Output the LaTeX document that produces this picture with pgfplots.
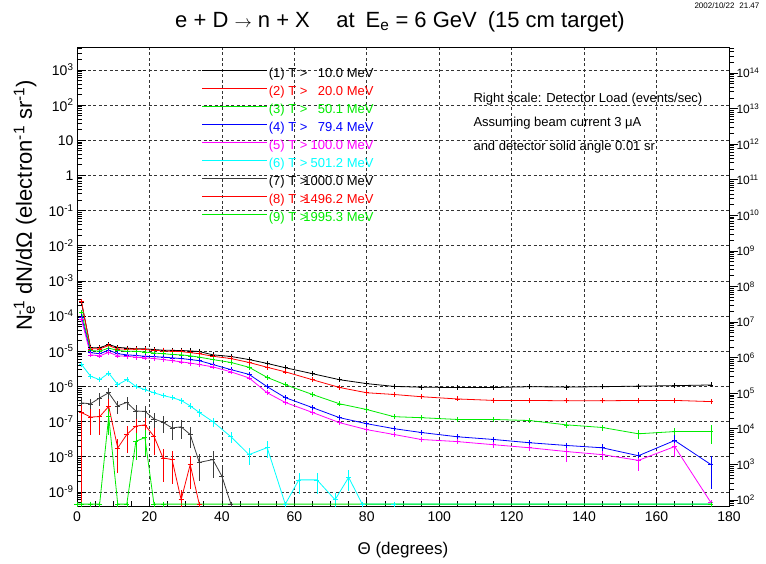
\documentclass[border=0pt]{standalone}
\usepackage{pgfplots}
\pgfplotsset{compat=1.18}
\usepackage{fontspec}
\setmainfont{Liberation Sans}

\definecolor{rred}{RGB}{255,0,0}
\definecolor{rgreen}{RGB}{0,235,0}
\definecolor{rblue}{RGB}{0,0,255}
\definecolor{rmag}{RGB}{255,0,255}
\definecolor{rcyan}{RGB}{0,255,255}
\definecolor{rgray}{RGB}{60,60,60}

% powers of ten written the ROOT way
\newcommand{\pw}[1]{10\textsuperscript{#1}}
% legend label: (n) T > value MeV, values right aligned
\newcommand{\thr}[2]{(#1) T >\makebox[2.75em][r]{#2} MeV}

% minor log ticks 2..9 in each decade
\newcommand\buildminor[3]{%
  \def#1{}%
  \pgfplotsforeachungrouped \e in {#2,...,#3}{%
    \pgfplotsforeachungrouped \m in {2,...,9}{%
      \ifx#1\empty\edef#1{\m e\e}\else\edef#1{#1,\m e\e}\fi}}}
\buildminor\leftminor{-10}{3}
\buildminor\rightminor{1}{14}

\pgfplotsset{
  ser/.style={color=#1, line width=0.8pt, mark=+, mark size=2.5pt,
    mark options={solid, line width=0.6pt},
    /pgfplots/error bars/y dir=both,
    /pgfplots/error bars/y explicit relative,
    /pgfplots/error bars/error mark=none,
    /pgfplots/error bars/error bar style={line width=0.6pt}},
}

\begin{document}
\begin{tikzpicture}
\path[use as bounding box] (-77pt,-57pt) rectangle (689pt,506pt);

\begin{axis}[
  scale only axis, width=652pt, height=459pt,
  xmin=0, xmax=180,
  ymode=log, ymin=3.98e-10, ymax=4467,
  axis line style={line width=0.8pt},
  tick pos=left, tick align=inside,
  major tick length=9pt, minor tick length=5pt,
  tick style={black, line width=0.6pt},
  xtick={0,20,...,180}, minor x tick num=3,
  xticklabels={0,20,40,60,80,100,120,140,160,180},
  ytick={1e-9,1e-8,1e-7,1e-6,1e-5,1e-4,1e-3,1e-2,1e-1,1,10,100,1000},
  yticklabels={\pw{-9},\pw{-8},\pw{-7},\pw{-6},\pw{-5},\pw{-4},\pw{-3},\pw{-2},\pw{-1},1,10,\pw{2},\pw{3}},
  minor ytick/.expand once=\leftminor,
  ticklabel style={font=\fontsize{14}{16}\selectfont},
  xticklabel style={yshift=-2pt},
  /pgf/number format/assume math mode=true,
  grid=major,
  major grid style={black!80, dash pattern=on 3pt off 2.5pt, line width=0.6pt},
  legend style={draw=none, fill=none, at={(0.1917,0.958)}, anchor=north west,
    inner sep=0pt, outer sep=0pt, row sep=0pt, column sep=1pt,
    font=\fontsize{13}{15}\selectfont,
    nodes={inner sep=0pt, text height=11pt, text depth=7pt}},
  legend cell align=left,
  legend image code/.code={\draw[#1, line width=0.8pt] (0pt,4.5pt) -- (65pt,4.5pt);},
]

% (1) T > 10.0 MeV
\addplot[ser=black] coordinates {
 (1.25,2.4e-4) +- (0,0) (3.75,1.26e-5) +- (0,0) (6.25,1.26e-5) +- (0,0) (8.75,1.55e-5) +- (0,0)
 (11.25,1.29e-5) +- (0,0) (13.75,1.23e-5) +- (0,0) (16.25,1.17e-5) +- (0,0) (18.75,1.17e-5) +- (0,0)
 (21.25,1.12e-5) +- (0,0) (23.75,1.07e-5) +- (0,0) (26.25,1.06e-5) +- (0,0) (28.75,1.05e-5) +- (0,0)
 (31.25,1.02e-5) +- (0,0) (33.75,9.8e-6) +- (0,0) (37.5,7.9e-6) +- (0,0) (42.5,7.1e-6) +- (0,0)
 (47.5,5.8e-6) +- (0,0) (52.5,4.5e-6) +- (0,0) (57.5,3.4e-6) +- (0,0) (65,2.3e-6) +- (0,0)
 (72.5,1.55e-6) +- (0,0) (80,1.2e-6) +- (0,0) (87.5,1.0e-6) +- (0,0.05) (95,9.5e-7) +- (0,0.05)
 (105,9.3e-7) +- (0,0.05) (115,9.3e-7) +- (0,0.08) (125,9.8e-7) +- (0,0.08) (135,9.6e-7) +- (0,0.08)
 (145,9.8e-7) +- (0,0.1) (155,1.02e-6) +- (0,0.1) (165,1.05e-6) +- (0,0.12) (175,1.1e-6) +- (0,0.15)
};
\addlegendentry{\thr{1}{10.0}}

% (2) T > 20.0 MeV
\addplot[ser=rred] coordinates {
 (1.25,2.57e-4) +- (0,0) (3.75,1.17e-5) +- (0,0) (6.25,1.17e-5) +- (0,0) (8.75,1.45e-5) +- (0,0)
 (11.25,1.17e-5) +- (0,0) (13.75,1.15e-5) +- (0,0) (16.25,1.15e-5) +- (0,0) (18.75,1.12e-5) +- (0,0)
 (21.25,1.07e-5) +- (0,0) (23.75,1.02e-5) +- (0,0) (26.25,1.0e-5) +- (0,0) (28.75,9.8e-6) +- (0,0)
 (31.25,9.1e-6) +- (0,0) (33.75,8.5e-6) +- (0,0) (37.5,7.2e-6) +- (0,0) (42.5,6.2e-6) +- (0,0)
 (47.5,4.8e-6) +- (0,0) (52.5,3.5e-6) +- (0,0) (57.5,2.6e-6) +- (0,0) (65,1.55e-6) +- (0,0)
 (72.5,9.3e-7) +- (0,0) (80,6.6e-7) +- (0,0) (87.5,5.9e-7) +- (0,0.05) (95,5.1e-7) +- (0,0.05)
 (105,4.4e-7) +- (0,0.06) (115,4.0e-7) +- (0,0.08) (125,4.0e-7) +- (0,0.08) (135,3.9e-7) +- (0,0.1)
 (145,3.9e-7) +- (0,0.1) (155,4.0e-7) +- (0,0.12) (165,4.0e-7) +- (0,0.12) (175,3.7e-7) +- (0,0.15)
};
\addlegendentry{\textcolor{rred}{\thr{2}{20.0}}}

% (3) T > 50.1 MeV
\addplot[ser=rgreen] coordinates {
 (1.25,1.26e-4) +- (0,0) (3.75,1.05e-5) +- (0,0) (6.25,1.0e-5) +- (0,0) (8.75,1.23e-5) +- (0,0)
 (11.25,1.05e-5) +- (0,0) (13.75,1.0e-5) +- (0,0) (16.25,1.0e-5) +- (0,0) (18.75,9.5e-6) +- (0,0)
 (21.25,8.9e-6) +- (0,0) (23.75,8.5e-6) +- (0,0) (26.25,8.1e-6) +- (0,0) (28.75,7.9e-6) +- (0,0)
 (31.25,7.4e-6) +- (0,0) (33.75,6.8e-6) +- (0,0) (37.5,5.8e-6) +- (0,0) (42.5,4.8e-6) +- (0,0)
 (47.5,3.5e-6) +- (0,0) (52.5,1.8e-6) +- (0,0) (57.5,1.12e-6) +- (0,0) (65,5.9e-7) +- (0,0)
 (72.5,3.2e-7) +- (0,0) (80,2.2e-7) +- (0,0.05) (87.5,1.38e-7) +- (0,0.08) (95,1.29e-7) +- (0,0.08)
 (105,1.15e-7) +- (0,0.1) (115,1.15e-7) +- (0,0.12) (125,1.07e-7) +- (0,0.15) (135,8.1e-8) +- (0,0.2)
 (145,6.8e-8) +- (0,0.2) (155,4.5e-8) +- (0,0.3) (165,5.2e-8) +- (0,0.25) (175,5.2e-8) +- (0,0.55)
};
\addlegendentry{\textcolor{rgreen}{\thr{3}{50.1}}}

% (4) T > 79.4 MeV
\addplot[ser=rblue] coordinates {
 (1.25,9.5e-5) +- (0,0) (3.75,9.1e-6) +- (0,0) (6.25,8.5e-6) +- (0,0) (8.75,1.07e-5) +- (0,0)
 (11.25,8.5e-6) +- (0,0) (13.75,7.9e-6) +- (0,0) (16.25,7.6e-6) +- (0,0) (18.75,7.2e-6) +- (0,0)
 (21.25,7.0e-6) +- (0,0) (23.75,6.8e-6) +- (0,0) (26.25,6.5e-6) +- (0,0) (28.75,6.2e-6) +- (0,0)
 (31.25,5.8e-6) +- (0,0) (33.75,5.4e-6) +- (0,0) (37.5,4.2e-6) +- (0,0) (42.5,3.0e-6) +- (0,0)
 (47.5,2.2e-6) +- (0,0) (52.5,9.8e-7) +- (0,0) (57.5,4.8e-7) +- (0,0) (65,2.5e-7) +- (0,0.05)
 (72.5,1.29e-7) +- (0,0.05) (80,8.7e-8) +- (0,0.08) (87.5,6.3e-8) +- (0,0.1) (95,4.9e-8) +- (0,0.1)
 (105,3.7e-8) +- (0,0.15) (115,3.1e-8) +- (0,0.2) (125,2.5e-8) +- (0,0.15) (135,2.1e-8) +- (0,0.2)
 (145,1.8e-8) +- (0,0.3) (155,1.07e-8) +- (0,0.3) (165,2.9e-8) +- (0,0.4) (175,6.0e-9) +- (0,0.8)
};
\addlegendentry{\textcolor{rblue}{\thr{4}{79.4}}}

% (5) T > 100.0 MeV
\addplot[ser=rmag] coordinates {
 (1.25,7.9e-5) +- (0,0) (3.75,7.9e-6) +- (0,0) (6.25,7.4e-6) +- (0,0) (8.75,9.3e-6) +- (0,0)
 (11.25,7.4e-6) +- (0,0) (13.75,7.2e-6) +- (0,0) (16.25,6.8e-6) +- (0,0) (18.75,6.5e-6) +- (0,0)
 (21.25,6.2e-6) +- (0,0) (23.75,5.8e-6) +- (0,0) (26.25,5.4e-6) +- (0,0) (28.75,5.0e-6) +- (0,0)
 (31.25,4.6e-6) +- (0,0) (33.75,4.2e-6) +- (0,0) (37.5,3.6e-6) +- (0,0) (42.5,2.6e-6) +- (0,0)
 (47.5,1.74e-6) +- (0,0) (52.5,6.6e-7) +- (0,0) (57.5,3.5e-7) +- (0,0) (65,1.82e-7) +- (0,0.05)
 (72.5,9.3e-8) +- (0,0.05) (80,5.9e-8) +- (0,0.08) (87.5,4.3e-8) +- (0,0.1) (95,3.1e-8) +- (0,0.15)
 (105,2.7e-8) +- (0,0.15) (115,2.2e-8) +- (0,0.2) (125,1.8e-8) +- (0,0.2) (135,1.41e-8) +- (0,0.5)
 (145,1.15e-8) +- (0,0.3) (155,7.9e-9) +- (0,0.5) (165,1.95e-8) +- (0,0.5) (175,5.0e-10) +- (0,0)
};
\addlegendentry{\textcolor{rmag}{\thr{5}{100.0}}}

% (6) T > 501.2 MeV
\addplot[ser=rcyan] coordinates {
 (1.25,4.2e-6) +- (0,0.1) (3.75,1.95e-6) +- (0,0.1) (6.25,1.55e-6) +- (0,0.1) (8.75,2.4e-6) +- (0,0.1)
 (11.25,1.12e-6) +- (0,0.1) (13.75,1.55e-6) +- (0,0.1) (16.25,1.0e-6) +- (0,0.1) (18.75,8.1e-7) +- (0,0.15)
 (21.25,6.6e-7) +- (0,0.15) (23.75,5.5e-7) +- (0,0.15) (26.25,4.8e-7) +- (0,0.15) (28.75,4.0e-7) +- (0,0.2)
 (31.25,2.8e-7) +- (0,0.2) (33.75,1.82e-7) +- (0,0.25) (37.5,1.0e-7) +- (0,0.3) (42.5,3.7e-8) +- (0,0.35)
 (47.5,1.15e-8) +- (0,0.5) (52.5,1.82e-8) +- (0,0.5) (57.5,4.5e-10) +- (0,0) (61.25,2.2e-9) +- (0,0.6)
 (66.25,2.2e-9) +- (0,0.6) (71.25,6.0e-10) +- (0,0.6) (75,2.6e-9) +- (0,0.6) (78.75,4.5e-10) +- (0,0)
 (87.5,4.5e-10) +- (0,0) (175,4.5e-10) +- (0,0)
};
\addlegendentry{\textcolor{rcyan}{\thr{6}{501.2}}}

% (7) T > 1000.0 MeV
\addplot[ser=rgray] coordinates {
 (1.25,3.4e-7) +- (0,0.4) (3.75,3.2e-7) +- (0,0.4) (6.25,4.7e-7) +- (0,0.4) (8.75,6.6e-7) +- (0,0.4)
 (11.25,2.8e-7) +- (0,0.4) (13.75,3.5e-7) +- (0,0.4) (16.25,2.0e-7) +- (0,0.45) (18.75,1.95e-7) +- (0,0.45)
 (21.25,1.2e-7) +- (0,0.5) (23.75,9.5e-8) +- (0,0.5) (26.25,6.6e-8) +- (0,0.55) (28.75,7.1e-8) +- (0,0.55)
 (31.25,4.3e-8) +- (0,0.6) (33.75,6.9e-9) +- (0,0.7) (37.5,8.3e-9) +- (0,0.7) (40,2.8e-9) +- (0,0.8)
 (42.5,4.5e-10) +- (0,0)
};
\addlegendentry{\thr{7}{1000.0}}

% (8) T > 1496.2 MeV
\addplot[ser=rred] coordinates {
 (1.25,1.8e-7) +- (0,0.999) (3.75,1.35e-7) +- (0,0.7) (6.25,1.38e-7) +- (0,0.7) (8.75,2.7e-7) +- (0,0.6)
 (11.25,1.78e-8) +- (0,0.8) (13.75,4.3e-8) +- (0,0.7) (16.25,7.4e-8) +- (0,0.6) (18.75,8.1e-8) +- (0,0.6)
 (21.25,3.8e-8) +- (0,0.7) (23.75,9.3e-9) +- (0,0.8) (26.25,8.3e-9) +- (0,0.8) (28.75,6.0e-10) +- (0,0.9)
 (31.25,6.0e-9) +- (0,0.8) (33.75,4.5e-10) +- (0,0)
};
\addlegendentry{\textcolor{rred}{\thr{8}{1496.2}}}

% (9) T > 1995.3 MeV
\addplot[ser=rgreen] coordinates {
 (0,4.5e-10) +- (0,0) (1.25,4.5e-10) +- (0,0) (3.75,4.5e-10) +- (0,0) (6.25,4.5e-10) +- (0,0)
 (8.75,1.41e-7) +- (0,0.7) (11.25,4.5e-10) +- (0,0) (13.75,4.5e-10) +- (0,0)
 (16.25,2.75e-8) +- (0,0.7) (18.75,3.5e-8) +- (0,0.7) (21.25,4.5e-10) +- (0,0)
 (23.75,4.5e-10) +- (0,0) (175,4.5e-10) +- (0,0)
};
\addlegendentry{\textcolor{rgreen}{\thr{9}{1995.3}}}

\end{axis}

% right-hand scale: detector load in events/sec
\begin{axis}[
  scale only axis, width=652pt, height=459pt,
  xmin=0, xmax=180,
  ymode=log, ymin=67.6, ymax=5.37e14,
  axis x line=none, axis y line*=right,
  axis line style={line width=0.8pt},
  tick align=outside,
  major tick length=9pt, minor tick length=5pt,
  tick style={black, line width=0.6pt},
  ytick={1e2,1e3,1e4,1e5,1e6,1e7,1e8,1e9,1e10,1e11,1e12,1e13,1e14},
  yticklabels={\pw{2},\pw{3},\pw{4},\pw{5},\pw{6},\pw{7},\pw{8},\pw{9},\pw{10},\pw{11},\pw{12},\pw{13},\pw{14}},
  minor ytick/.expand once=\rightminor,
  yticklabel style={font=\fontsize{12}{14}\selectfont, xshift=-5pt},
]
\end{axis}

\node[font=\fontsize{22}{26}\selectfont] at (323pt,484pt)
  {e + D {\fontsize{17}{20}\selectfont$\rightarrow$} n + X\hspace{1.2em}at\hspace{0.5em}E\textsubscript{e} = 6 GeV\hspace{0.5em}(15 cm target)};
\node[anchor=west, font=\fontsize{8}{9}\selectfont] at (614pt,500pt) {2002/10/22\hspace{0.6em}21.47};

\node[anchor=west, font=\fontsize{13}{15}\selectfont] at (393pt,407pt) {Right scale: Detector Load (events/sec)};
\node[anchor=west, font=\fontsize{13}{15}\selectfont] at (393pt,383pt) {Assuming beam current 3 μA};
\node[anchor=west, font=\fontsize{13}{15}\selectfont] at (393pt,359pt) {and detector solid angle 0.01 sr};

\node[font=\fontsize{17}{20}\selectfont] at (326pt,-44pt) {Θ (degrees)};
\node[rotate=90, font=\fontsize{22}{26}\selectfont] at (-52pt,301pt)
  {N\textsubscript{e}\hspace{-0.45em}\textsuperscript{-1} dN/dΩ (electron\textsuperscript{-1} sr\textsuperscript{-1})};
\end{tikzpicture}
\end{document}
